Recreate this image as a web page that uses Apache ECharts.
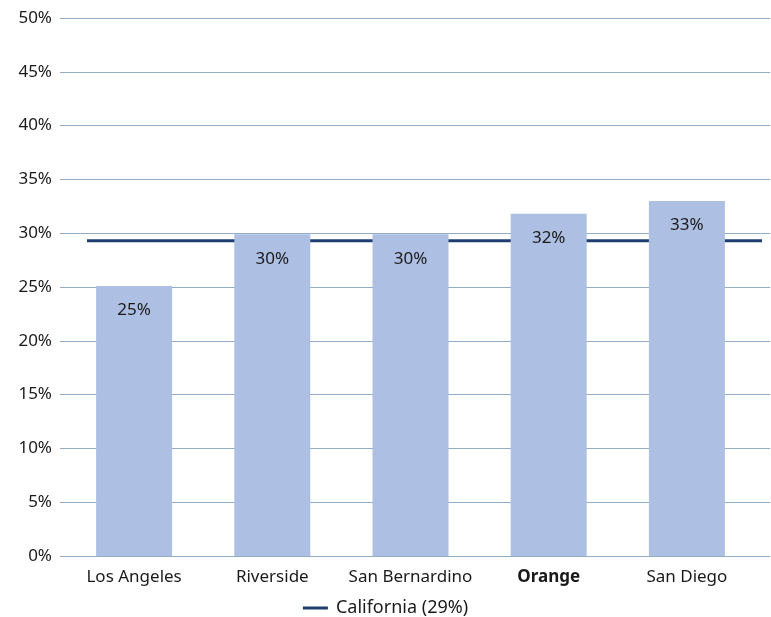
<!DOCTYPE html>
<html><head><meta charset="utf-8">
<script src="https://cdn.jsdelivr.net/npm/echarts@6/dist/echarts.min.js"></script>
<style>html,body{margin:0;padding:0;background:#fff}#c{width:771px;height:617px}</style>
</head><body><div id="c"></div>
<script>
const categories = ['Los Angeles', 'Riverside', 'San Bernardino', 'Orange', 'San Diego'];
const shares = [25.1, 29.9, 29.9, 31.8, 33.0];
const shareLabels = ['25%', '30%', '30%', '32%', '33%'];
const californiaName = 'California (29%)';
const californiaValue = [29.3, 29.3];
const boldCategory = 'Orange';

const FONT = '"Noto Sans", "Open Sans", sans-serif';
const chart = echarts.init(document.getElementById('c'), null, {renderer: 'canvas'});
chart.setOption({
  animation: false,
  textStyle: {fontFamily: FONT},
  grid: [
    {left: 60, right: 1, top: 18, bottom: 61},
    {left: 65, width: 691, top: 18, bottom: 61},
    {left: 87, right: 9, top: 18, bottom: 61}
  ],
  xAxis: [
    {gridIndex: 0, type: 'value', min: 0, max: 1, show: false},
    {gridIndex: 1, type: 'category', data: categories,
      axisLine: {show: false}, axisTick: {show: false},
      axisLabel: {interval: 0, color: '#1a1a1a', fontSize: 17, margin: 13, fontFamily: FONT,
        formatter: v => v === boldCategory ? '{b|' + v + '}' : v,
        rich: {b: {fontWeight: 'bold', fontSize: 17, color: '#1a1a1a', fontFamily: FONT}}}},
    {gridIndex: 2, type: 'value', min: 0, max: 1, show: false}
  ],
  yAxis: [
    {gridIndex: 0, type: 'value', min: 0, max: 50, interval: 5,
      axisLine: {show: false}, axisTick: {show: false},
      axisLabel: {formatter: '{value}%', color: '#1a1a1a', fontSize: 17, margin: 8, fontFamily: FONT},
      splitLine: {lineStyle: {color: '#8fadc8', width: 1.2}}},
    {gridIndex: 1, type: 'value', min: 0, max: 50, show: false},
    {gridIndex: 2, type: 'value', min: 0, max: 50, show: false}
  ],
  legend: {
    top: 594, left: 'center', data: [californiaName],
    icon: 'rect', itemWidth: 25, itemHeight: 3, itemGap: 6,
    textStyle: {fontSize: 18, color: '#1a1a1a', fontFamily: FONT, padding: [0, 0, 0, 3]}
  },
  series: [
    {type: 'bar', name: 'share', xAxisIndex: 1, yAxisIndex: 1, data: shares, barWidth: 76,
      itemStyle: {color: '#adbfe2'},
      label: {show: true, position: 'insideTop', distance: 16, fontSize: 17, color: '#1a1a1a', fontFamily: FONT,
        formatter: p => shareLabels[p.dataIndex]}},
    {type: 'line', name: californiaName, xAxisIndex: 2, yAxisIndex: 2, z: 1,
      data: [[0, californiaValue[0]], [1, californiaValue[1]]], symbol: 'none',
      lineStyle: {color: '#1f3d6e', width: 3}, itemStyle: {color: '#1f3d6e'}}
  ]
});
</script></body></html>
